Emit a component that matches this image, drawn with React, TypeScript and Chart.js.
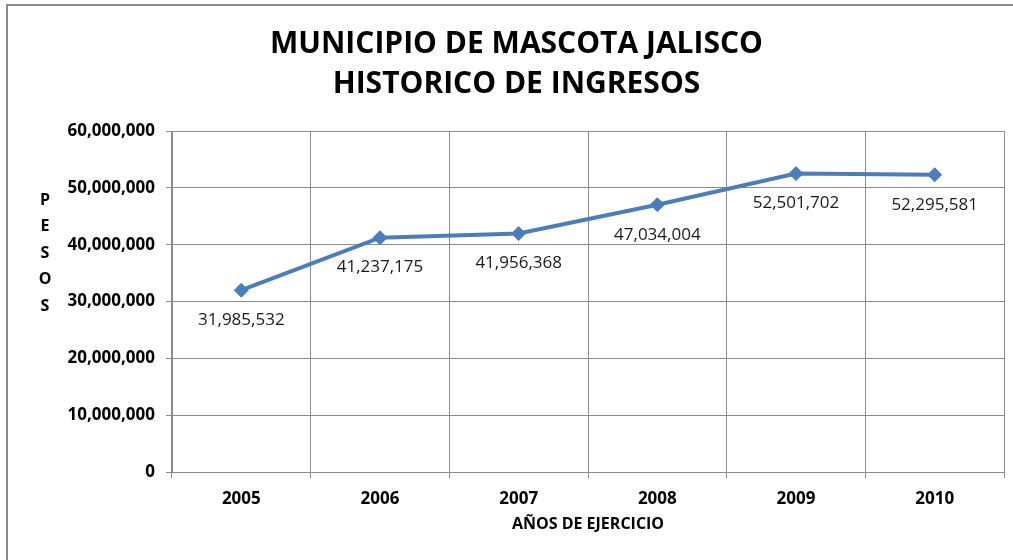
import React, { useEffect, useRef } from "react";
import { Chart, registerables } from "chart.js";

Chart.register(...registerables);

const categories = ["2005", "2006", "2007", "2008", "2009", "2010"];
const ingresos = [31985532, 41237175, 41956368, 47034004, 52501702, 52295581];
const titleLines = ["MUNICIPIO DE MASCOTA JALISCO", "HISTORICO DE INGRESOS"];
const xAxisTitle = "AÑOS DE EJERCICIO";
const yAxisTitle = "PESOS";
const yMin = 0;
const yMax = 60000000;
const yStep = 10000000;

const FONT = "'Open Sans', 'Noto Sans', sans-serif";
const GRID = "#8c8c8c";
const LINE = "#4a7ebb";

const fmt = (v: number) => String(Math.round(v)).replace(/\B(?=(\d{3})+(?!\d))/g, ",");

const decorPlugin = {
  id: "decor",
  beforeDraw(chart: any) {
    const ctx = chart.ctx;
    ctx.save();
    ctx.strokeStyle = "#8a8a8a";
    ctx.lineWidth = 2;
    ctx.beginPath();
    ctx.moveTo(7, chart.height);
    ctx.lineTo(7, 5);
    ctx.lineTo(chart.width, 5);
    ctx.stroke();
    ctx.restore();
  },
  afterDatasetsDraw(chart: any) {
    const ctx = chart.ctx;
    const meta = chart.getDatasetMeta(0);
    const data = chart.data.datasets[0].data as number[];
    ctx.save();
    ctx.font = `400 17px ${FONT}`;
    ctx.fillStyle = "#1a1a1a";
    ctx.textAlign = "center";
    ctx.textBaseline = "middle";
    meta.data.forEach((pt: any, i: number) => {
      ctx.fillText(fmt(data[i]), pt.x, pt.y + 30);
    });
    ctx.restore();
  },
  afterDraw(chart: any) {
    const ctx = chart.ctx;
    ctx.save();
    ctx.font = `700 16px ${FONT}`;
    ctx.fillStyle = "#000";
    ctx.textAlign = "center";
    ctx.textBaseline = "middle";
    const letters = yAxisTitle.split("");
    letters.forEach((ch, i) => {
      ctx.fillText(ch, 45, 200 + i * 26.5);
    });
    ctx.restore();
  },
};

export default function App() {
  const ref = useRef<HTMLCanvasElement | null>(null);
  useEffect(() => {
    if (!ref.current) return;
    const chart = new Chart(ref.current, {
      type: "line",
      data: {
        labels: categories,
        datasets: [
          {
            label: "Ingresos",
            data: ingresos,
            borderColor: LINE,
            backgroundColor: LINE,
            borderWidth: 4,
            pointStyle: "rectRot",
            pointRadius: 7,
            pointBorderWidth: 1,
            pointBackgroundColor: LINE,
            pointBorderColor: LINE,
            tension: 0,
            fill: false,
          },
        ],
      },
      options: {
        animation: false,
        responsive: true,
        maintainAspectRatio: false,
        layout: { padding: { left: 29, right: 9, top: 0, bottom: 0 } },
        plugins: {
          legend: { display: false },
          tooltip: { enabled: false },
          title: {
            display: true,
            text: titleLines,
            color: "#000",
            font: { family: FONT, size: 30, weight: "bold", lineHeight: 40 / 30 },
            padding: { top: 24, bottom: 27 },
          },
        },
        scales: {
          x: {
            type: "category",
            offset: true,
            grid: { display: true, color: GRID, lineWidth: 1, offset: true, tickLength: 6, drawTicks: true },
            border: { display: true, color: GRID, width: 1 },
            ticks: { color: "#000", padding: 11, font: { family: FONT, size: 17, weight: "bold" } },
            title: {
              display: true,
              text: xAxisTitle,
              color: "#000",
              font: { family: FONT, size: 16, weight: "bold", lineHeight: 1.2 },
              padding: { top: 0, bottom: 26.4 },
            },
            afterFit(scale: any) {
              scale.height = 88;
            },
          },
          y: {
            min: yMin,
            max: yMax,
            ticks: {
              stepSize: yStep,
              color: "#000",
              padding: 11,
              font: { family: FONT, size: 17, weight: "bold" },
              callback: (v: any) => fmt(Number(v)),
            },
            grid: { color: GRID, lineWidth: 1, tickLength: 6 },
            border: { display: true, color: GRID, width: 1 },
            afterFit(scale: any) {
              scale.width = 143;
            },
          },
        },
      },
      plugins: [decorPlugin],
    });
    return () => chart.destroy();
  }, []);

  return (
    <div style={{ position: "absolute", left: 0, top: 0, width: 1013, height: 560, background: "#fff" }}>
      <canvas ref={ref} />
    </div>
  );
}
